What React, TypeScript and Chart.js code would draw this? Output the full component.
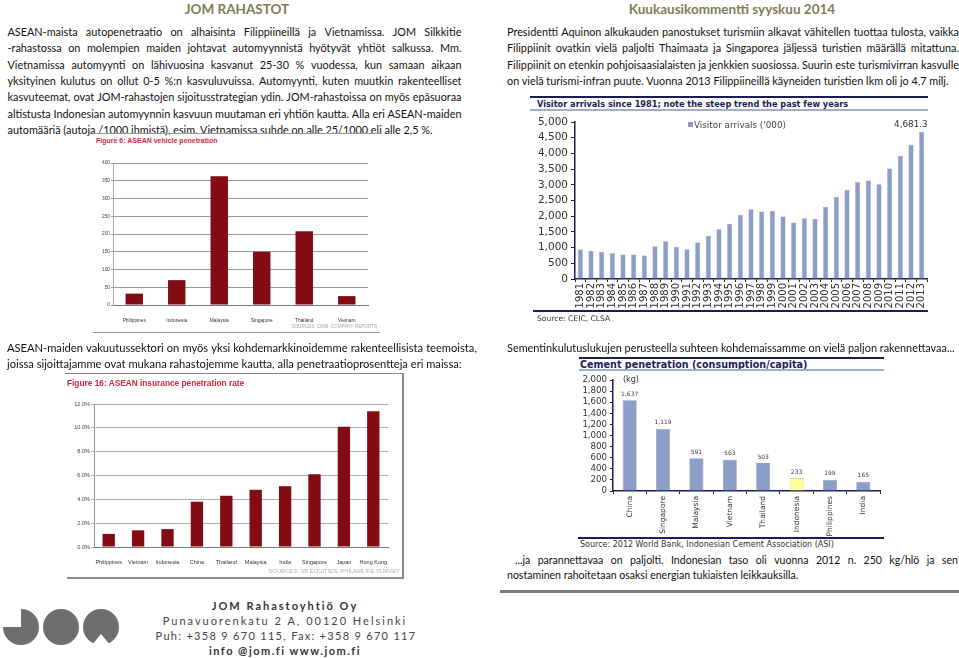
import React, { useEffect, useRef } from 'react';
import { Chart, registerables } from 'chart.js';
Chart.register(...registerables);

// ---------- data ----------
const vehicleCountries = ['Philippines', 'Indonesia', 'Malaysia', 'Singapore', 'Thailand', 'Vietnam'];
const vehicleValues = [32, 70, 363, 150, 208, 25];

const insuranceCountries = ['Philippines', 'Vietnam', 'Indonesia', 'China', 'Thailand', 'Malaysia', 'India', 'Singapore', 'Japan', 'Hong Kong'];
const insuranceValues = [1.1, 1.4, 1.5, 3.8, 4.3, 4.8, 5.1, 6.1, 10.1, 11.4];

const arrivalYears = ['1981', '1982', '1983', '1984', '1985', '1986', '1987', '1988', '1989', '1990', '1991', '1992', '1993', '1994', '1995', '1996', '1997', '1998', '1999', '2000', '2001', '2002', '2003', '2004', '2005', '2006', '2007', '2008', '2009', '2010', '2011', '2012', '2013'];
const arrivalValues = [940, 890, 860, 820, 777, 780, 745, 1043, 1202, 1021, 951, 1160, 1372, 1585, 1760, 2050, 2222, 2150, 2170, 1990, 1796, 1933, 1907, 2291, 2623, 2843, 3092, 3139, 3017, 3520, 3917, 4273, 4681.3];

const cementCountries = ['China', 'Singapore', 'Malaysia', 'Vietnam', 'Thailand', 'Indonesia', 'Philippines', 'India'];
const cementValues = [1637, 1119, 591, 563, 503, 233, 199, 165];
const cementHighlight = 'Indonesia';

// ---------- texts ----------
const leftTitle = 'JOM RAHASTOT';
const rightTitle = 'Kuukausikommentti syyskuu 2014';
const leftParagraph = [
  'ASEAN-maista autopenetraatio on alhaisinta Filippiineillä ja Vietnamissa. JOM Silkkitie',
  '-rahastossa on molempien maiden johtavat automyynnistä hyötyvät yhtiöt salkussa. Mm.',
  'Vietnamissa automyynti on lähivuosina kasvanut 25-30 % vuodessa, kun samaan aikaan',
  'yksityinen kulutus on ollut 0-5 %:n kasvuluvuissa. Automyynti, kuten muutkin rakenteelliset',
  'kasvuteemat, ovat JOM-rahastojen sijoitusstrategian ydin. JOM-rahastoissa on myös epäsuoraa',
  'altistusta Indonesian automyynnin kasvuun muutaman eri yhtiön kautta. Alla eri ASEAN-maiden',
  'automääriä (autoja /1000 ihmistä), esim. Vietnamissa suhde on alle 25/1000 eli alle 2,5 %.',
];
const rightParagraph = [
  'Presidentti Aquinon alkukauden panostukset turismiin alkavat vähitellen tuottaa tulosta, vaikka',
  'Filippiinit ovatkin vielä paljolti Thaimaata ja Singaporea jäljessä turistien määrällä mitattuna.',
  'Filippiinit on etenkin pohjoisaasialaisten ja jenkkien suosiossa. Suurin este turismivirran kasvulle',
  'on vielä turismi-infran puute. Vuonna 2013 Filippiineillä käyneiden turistien lkm oli jo 4,7 milj.',
];
const insuranceParagraph = [
  'ASEAN-maiden vakuutussektori on myös yksi kohdemarkkinoidemme rakenteellisista teemoista,',
  'joissa sijoittajamme ovat mukana rahastojemme kautta, alla penetraatioprosentteja eri maissa:',
];
const cementIntro = 'Sementinkulutuslukujen perusteella suhteen kohdemaissamme on vielä paljon rakennettavaa...';
const cementOutro = [
  '...ja parannettavaa on paljolti. Indonesian taso oli vuonna 2012 n. 250 kg/hlö ja sen',
  'nostaminen rahoitetaan osaksi energian tukiaisten leikkauksilla.',
];
const footerLines = [
  'JOM Rahastoyhtiö Oy',
  'Punavuorenkatu 2 A, 00120 Helsinki',
  'Puh: +358 9 670 115, Fax: +358 9 670 117',
  'info @jom.fi www.jom.fi',
];

// ---------- helpers ----------
const NAVY = '#1d1d55';
const BLUE_BAR = '#8c9dca';
const RED_BAR = '#820b14';
const BODY_FONT = 'Lato';

const zeroPad = (s: any) => { s.paddingLeft = 0; s.paddingRight = 0; s.paddingTop = 0; s.paddingBottom = 0; };
const fixW = (w: number) => (s: any) => { s.width = w; zeroPad(s); };
const fixH = (h: number) => (s: any) => { s.height = h; zeroPad(s); };

function ChartCanvas({ left, top, width, height, make }: any) {
  const ref = useRef<HTMLCanvasElement>(null);
  useEffect(() => {
    const chart = new Chart(ref.current as HTMLCanvasElement, make());
    return () => chart.destroy();
  }, []);
  return <canvas ref={ref} width={width} height={height} style={{ position: 'absolute', left, top, width, height }} />;
}

function Rule({ x, y, w, h = 1, c }: any) {
  return <div style={{ position: 'absolute', left: x, top: y, width: w, height: h, background: c }} />;
}

function Txt({ x, y, text, size, color = '#222', family = BODY_FONT, bold = false, align = 'left', ls = 0 }: any) {
  const lh = Math.round(size * 1.4);
  const base: any = {
    position: 'absolute', top: y - lh / 2, height: lh, lineHeight: lh + 'px', fontSize: size,
    fontFamily: family, fontWeight: bold ? 700 : 400, color, whiteSpace: 'nowrap', letterSpacing: ls,
  };
  if (align === 'right') return <div style={{ ...base, left: x - 500, width: 500, textAlign: 'right' }}>{text}</div>;
  if (align === 'center') return <div style={{ ...base, left: x - 300, width: 600, textAlign: 'center' }}>{text}</div>;
  return <div style={{ ...base, left: x }}>{text}</div>;
}

function JLine({ x, y, w, text, justify, size }: any) {
  const base: any = {
    position: 'absolute', left: x, top: y - 8, width: w, height: 16, lineHeight: '16px',
    fontFamily: BODY_FONT, fontSize: size, color: '#111', whiteSpace: 'nowrap',
  };
  if (justify) {
    return (
      <div style={{ ...base, display: 'flex', justifyContent: 'space-between' }}>
        {text.split(' ').map((t: string, i: number) => <span key={i}>{t}</span>)}
      </div>
    );
  }
  return <div style={base}>{text}</div>;
}

const noInteract = { legend: { display: false }, tooltip: { enabled: false } };

// ---------- chart configs ----------
const makeVehicle = () => ({
  type: 'bar',
  data: { labels: vehicleCountries, datasets: [{ data: vehicleValues, backgroundColor: RED_BAR, barPercentage: 0.41, categoryPercentage: 1 }] },
  options: {
    animation: false, responsive: false, events: [],
    layout: { padding: { top: 13, right: 12, left: 0, bottom: 0 } },
    plugins: noInteract,
    scales: {
      x: {
        grid: { display: false }, border: { display: true, color: '#777' },
        ticks: { autoSkip: false, minRotation: 0, maxRotation: 0, padding: 4.5, color: '#333', font: { family: 'Liberation Sans', size: 4.8 } },
        afterFit: fixH(20),
      },
      y: {
        min: 0, max: 400,
        ticks: { autoSkip: false, stepSize: 50, padding: 1, color: '#444', font: { family: 'Liberation Sans', size: 4.8 } },
        grid: { color: '#9a9a9a', tickLength: 2 }, border: { display: true, color: '#aaa' },
        afterFit: fixW(23),
      },
    },
  },
});

const makeInsurance = () => ({
  type: 'bar',
  data: { labels: insuranceCountries, datasets: [{ data: insuranceValues, backgroundColor: RED_BAR, barPercentage: 0.42, categoryPercentage: 1 }] },
  options: {
    animation: false, responsive: false, events: [],
    layout: { padding: { top: 9, right: 13, left: 0, bottom: 0 } },
    plugins: noInteract,
    scales: {
      x: {
        grid: { display: false }, border: { display: true, color: '#777' },
        ticks: { autoSkip: false, minRotation: 0, maxRotation: 0, padding: 4, color: '#333', font: { family: 'Liberation Sans', size: 5.5 } },
        afterFit: fixH(18),
      },
      y: {
        min: 0, max: 12,
        ticks: { autoSkip: false, stepSize: 2, padding: 1, color: '#444', font: { family: 'Liberation Sans', size: 5.6 }, callback: (v: any) => Number(v).toFixed(1) + '%' },
        grid: { color: '#b0b0b0', tickLength: 3 }, border: { display: true, color: '#999' },
        afterFit: fixW(31),
      },
    },
  },
});

const lastValuePlugin = {
  id: 'lastValue',
  afterDatasetsDraw(chart: any) {
    const ctx = chart.ctx;
    const meta = chart.getDatasetMeta(0);
    const data = chart.data.datasets[0].data;
    const i = data.length - 1;
    const el = meta.data[i];
    ctx.save();
    ctx.font = '8.8px "DejaVu Sans"';
    ctx.fillStyle = '#333';
    ctx.textAlign = 'right';
    ctx.textBaseline = 'alphabetic';
    ctx.fillText(Number(data[i]).toLocaleString('en-US', { minimumFractionDigits: 1 }), el.x + 6, el.y - 5.5);
    ctx.restore();
  },
};

const makeArrivals = () => ({
  type: 'bar',
  data: {
    labels: arrivalYears,
    datasets: [{ label: "Visitor arrivals ('000)", data: arrivalValues, backgroundColor: BLUE_BAR, borderColor: '#7d8ebe', borderWidth: 0.5, barPercentage: 0.47, categoryPercentage: 1 }],
  },
  options: {
    animation: false, responsive: false, events: [], locale: 'en-US',
    layout: { padding: { top: 10, right: 3, left: 0, bottom: 0 } },
    plugins: noInteract,
    scales: {
      x: {
        grid: { display: true, drawOnChartArea: false, offset: true, tickLength: 3, color: NAVY },
        border: { display: true, color: NAVY, width: 1.5 },
        ticks: { autoSkip: false, minRotation: 90, maxRotation: 90, padding: 1, color: '#333', font: { family: 'DejaVu Sans', size: 10 } },
        afterFit: fixH(32),
      },
      y: {
        min: 0, max: 5000,
        ticks: { autoSkip: false, stepSize: 500, padding: 3, color: '#333', font: { family: 'DejaVu Sans', size: 10.5 } },
        grid: { drawOnChartArea: false, tickLength: 4, color: NAVY },
        border: { display: true, color: NAVY, width: 1.5 },
        afterFit: fixW(45),
      },
    },
  },
  plugins: [lastValuePlugin],
});

const valueLabelsPlugin = {
  id: 'valueLabels',
  afterDatasetsDraw(chart: any) {
    const ctx = chart.ctx;
    const meta = chart.getDatasetMeta(0);
    const data = chart.data.datasets[0].data;
    ctx.save();
    ctx.font = '6px "DejaVu Sans"';
    ctx.fillStyle = '#3a3a5a';
    ctx.textAlign = 'center';
    ctx.textBaseline = 'alphabetic';
    meta.data.forEach((el: any, i: number) => {
      ctx.fillText(Number(data[i]).toLocaleString('en-US'), el.x, el.y - 4.5);
    });
    ctx.restore();
  },
};

const makeCement = () => ({
  type: 'bar',
  data: {
    labels: cementCountries,
    datasets: [{
      data: cementValues,
      backgroundColor: cementCountries.map((c) => (c === cementHighlight ? '#ffff99' : BLUE_BAR)),
      borderColor: cementCountries.map((c) => (c === cementHighlight ? '#c9c98f' : '#7d8ebe')),
      borderWidth: 0.6, barPercentage: 0.42, categoryPercentage: 1,
    }],
  },
  options: {
    animation: false, responsive: false, events: [], locale: 'en-US',
    layout: { padding: { top: 8, right: 5, left: 0, bottom: 0 } },
    plugins: noInteract,
    scales: {
      x: {
        grid: { display: true, drawOnChartArea: false, offset: true, tickLength: 3, color: NAVY },
        border: { display: true, color: NAVY, width: 1.5 },
        ticks: { autoSkip: false, minRotation: 90, maxRotation: 90, padding: 2, color: '#333', font: { family: 'DejaVu Sans', size: 7.5 } },
        afterFit: fixH(46),
      },
      y: {
        min: 0, max: 2000,
        ticks: { autoSkip: false, stepSize: 200, padding: 3, color: '#333', font: { family: 'DejaVu Sans', size: 8.6 } },
        grid: { drawOnChartArea: false, tickLength: 3, color: NAVY },
        border: { display: true, color: NAVY, width: 1.5 },
        afterFit: fixW(48),
      },
    },
  },
  plugins: [valueLabelsPlugin],
});

function Logo() {
  const g = '#6e6e6e';
  return (
    <svg width={125} height={50} style={{ position: 'absolute', left: 0, top: 604 }} viewBox="0 604 125 50">
      <path d="M 21 609 A 18 18 0 1 1 3 627 L 21 627 Z" fill={g} />
      <circle cx={61} cy={627} r={18} fill={g} />
      <circle cx={101} cy={627} r={18} fill={g} />
      <polygon points="91,646 101,634 111,646" fill="#fff" />
    </svg>
  );
}

export default function App() {
  return (
    <div style={{ position: 'absolute', left: 0, top: 0, width: 959, height: 658, overflow: 'hidden', background: '#fff' }}>
      {/* titles */}
      <Txt x={237} y={9} text={leftTitle} size={13.5} bold color="#807a5a" align="center" />
      <Txt x={732} y={9} text={rightTitle} size={13.5} bold color="#807a5a" align="center" />

      {/* left paragraph */}
      {leftParagraph.map((t, i) => (
        <JLine key={'l' + i} x={7.5} y={32 + i * 16.3} w={454} size={10.85} text={t} justify={i < leftParagraph.length - 1} />
      ))}
      {/* right paragraph */}
      {rightParagraph.map((t, i) => (
        <JLine key={'r' + i} x={507} y={32 + i * 16.4} w={452} size={10.85} text={t} justify={i < rightParagraph.length - 1} />
      ))}

      {/* vehicle chart */}
      <Rule x={93} y={133} w={287} c="#9a9a9a" />
      <Txt x={96} y={141} text="Figure 6: ASEAN vehicle penetration" size={7} bold family="Liberation Sans" color="#cc2b3c" />
      <ChartCanvas left={90} top={150} width={290} height={175} make={makeVehicle} />
      <Txt x={377} y={327} text="SOURCES: CIMB, COMPANY REPORTS" size={4.6} family="Liberation Sans" color="#a8a8a8" align="right" />
      <Rule x={93} y={332} w={287} c="#9a9a9a" />

      {/* insurance text + chart */}
      {insuranceParagraph.map((t, i) => (
        <JLine key={'i' + i} x={7} y={348 + i * 15.5} w={470} size={11.15} text={t} justify={i < insuranceParagraph.length - 1} />
      ))}
      <Rule x={65} y={373} w={338} c="#8a8a8a" />
      <Rule x={402} y={373} w={1.5} h={206} c="#8a8a8a" />
      <Rule x={67} y={577} w={337} h={2} c="#8a8a8a" />
      <Txt x={67} y={383} text="Figure 16: ASEAN insurance penetration rate" size={8.3} bold family="Liberation Sans" color="#d2273a" />
      <ChartCanvas left={63} top={395} width={338} height={170} make={makeInsurance} />
      <Txt x={400} y={571} text="SOURCES: SB EQUITIES; PHILAMLIFE SURVEY" size={5.85} family="Liberation Sans" color="#b0b0b0" align="right" />

      {/* visitor arrivals chart */}
      <Rule x={530} y={96} w={398} h={2} c={NAVY} />
      <Txt x={537} y={104} text="Visitor arrivals since 1981; note the steep trend the past few years" size={8.2} bold family="DejaVu Sans" color={NAVY} />
      <Rule x={530} y={109} w={398} h={2} c="#a4acd0" />
      <ChartCanvas left={530} top={112} width={400} height={199} make={makeArrivals} />
      <div style={{ position: 'absolute', left: 688, top: 122, width: 5, height: 5, background: BLUE_BAR }} />
      <Txt x={694} y={125} text="Visitor arrivals ('000)" size={8.8} family="DejaVu Sans" color="#444" />
      <Rule x={533} y={310} w={395} h={2} c={NAVY} />
      <Txt x={537} y={318} text="Source: CEIC, CLSA" size={7.6} family="DejaVu Sans" color="#333" />

      {/* cement */}
      <JLine x={507} y={348} w={452} size={10.9} text={cementIntro} justify={false} />
      <Rule x={579} y={357} w={305} h={1.5} c={NAVY} />
      <Txt x={580} y={364} text="Cement penetration (consumption/capita)" size={9.6} bold family="DejaVu Sans" color={NAVY} />
      <Rule x={579} y={369} w={305} h={1.5} c="#a4acd0" />
      <ChartCanvas left={565} top={372} width={320} height={165} make={makeCement} />
      <Txt x={623} y={379} text="(kg)" size={8} family="DejaVu Sans" color="#333" />
      <Rule x={578} y={537} w={306} h={1.5} c={NAVY} />
      <Txt x={580} y={544} text="Source: 2012 World Bank, Indonesian Cement Association (ASI)" size={8} family="DejaVu Sans" color="#333" />
      <JLine x={515} y={560} w={443} size={10.55} text={cementOutro[0]} justify />
      <JLine x={507} y={575} w={450} size={10.55} text={cementOutro[1]} justify={false} />
      <Rule x={500} y={590} w={459} h={3} c="#7a7a7a" />

      {/* footer */}
      <Logo />
      <Txt x={285} y={605} text={footerLines[0]} size={11} bold color="#333" align="center" ls={2} />
      <Txt x={285} y={620} text={footerLines[1]} size={11} color="#444" align="center" ls={2} />
      <Txt x={286} y={635} text={footerLines[2]} size={11} color="#444" align="center" ls={1.3} />
      <Txt x={285} y={650} text={footerLines[3]} size={11} bold color="#333" align="center" ls={1.5} />
    </div>
  );
}
